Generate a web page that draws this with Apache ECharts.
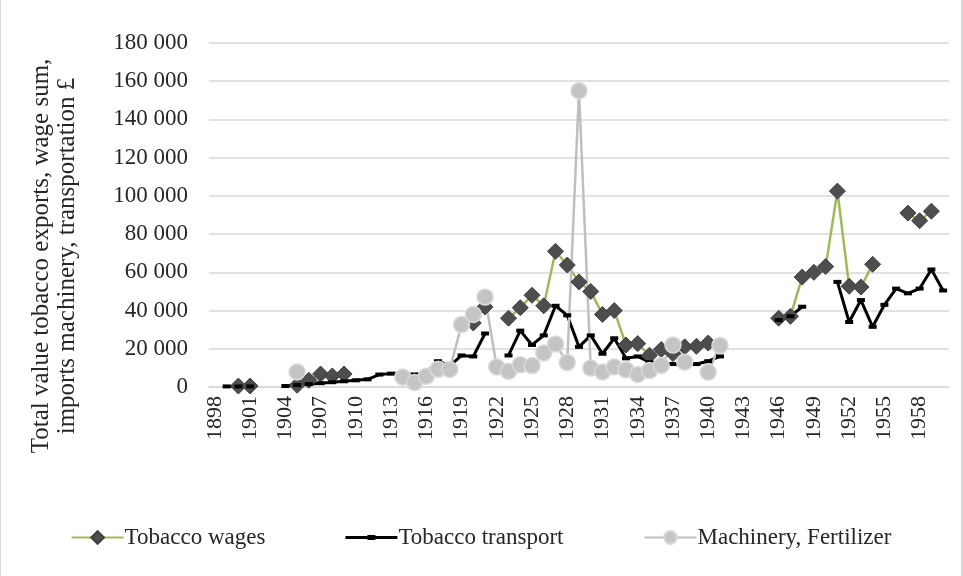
<!DOCTYPE html>
<html>
<head>
<meta charset="utf-8">
<title>Tobacco exports, wages, transport</title>
<script src="https://cdn.jsdelivr.net/npm/echarts@6/dist/echarts.min.js"></script>
<style>
  html, body { margin: 0; padding: 0; background: #fff; }
  #chart {
    width: 963px;
    height: 576px;
    box-sizing: border-box;
    border-left: 1px solid #d9d9d9;
    border-right: 2px solid #d9d9d9;
  }
</style>
</head>
<body>
<div id="chart"></div>
<script>
// years 1898 .. 1960, one category per year
const years = []
for (let y = 1898; y <= 1960; y++) years.push(String(y))

// values, null = no data (gap in line)
const tobaccoWages = [
  null, null, 500, 500, null, null, null, 900, 3500, 6800,   // 1898-1907
  5800, 6800, null, null, null, null, null, null, null, null, // 1908-1917
  null, null, 33500, 41900, null, 36000, 41500, 48000, 42500, 71000, // 1918-1927
  63800, 55000, 50000, 38000, 40000, 22000, 22700, 16600, 19600, 17500, // 1928-1937
  21000, 21300, 23000, null, null, null, null, null, 36000, 37000, // 1938-1947
  57500, 60000, 63000, 102500, 52700, 52300, 64200, null, null, 91000, // 1948-1957
  87000, 92000, null // 1958-1960
]

const tobaccoTransport = [
  null, 300, 300, 300, null, null, 500, 1000, 1500, 2000,     // 1898-1907
  2500, 3000, 3500, 4000, 6500, 7000, 7000, 6500, 7500, 13500, // 1908-1917
  11000, 16500, 16000, 28000, null, 16500, 29500, 22000, 27000, 42500, // 1918-1927
  37500, 21000, 27000, 17400, 25500, 15000, 16000, 13000, 12500, 12000, // 1928-1937
  11500, 12000, 13500, 16000, null, null, null, null, 35000, 37000, // 1938-1947
  42000, null, null, 55000, 34000, 45500, 31500, 43000, 51500, 49000, // 1948-1957
  51500, 61500, 50500 // 1958-1960
]

const machineryFertilizer = [
  null, null, null, null, null, null, null, 7900, null, null, // 1898-1907
  null, null, null, null, null, null, 5200, 2300, 5600, 9300, // 1908-1917
  9200, 32700, 38000, 47100, 10500, 8200, 11600, 11200, 17800, 22500, // 1918-1927
  12800, 155000, 9900, 7900, 10500, 9000, 6600, 8600, 11300, 22000, // 1928-1937
  13000, null, 7800, 21700, null, null, null, null, null, null, // 1938-1947
  null, null, null, null, null, null, null, null, null, null, // 1948-1957
  null, null, null // 1958-1960
]

const yTicks = { min: 0, max: 180000, interval: 20000 }

const fontFamily = '"Liberation Serif", "DejaVu Serif", serif'
const textColor = '#262626'

const chart = echarts.init(document.getElementById('chart'))

const fmt = v => String(v).replace(/\B(?=(\d{3})+(?!\d))/g, ' ')

// legend icon for transport: thick line with a small dash marker
const transportIcon = 'path://M0,0L0,0M0,16L0,16M0,6.5H52V9.5H0ZM22,5.5H30V10.5H22Z'

const option = {
  animation: false,
  textStyle: { fontFamily: fontFamily },
  grid: {
    left: 208,
    right: 12,
    top: 43,
    bottom: 189,
    containLabel: false
  },
  // axis title, placed like the Excel one (centred on the chart area, not the plot)
  graphic: [
    {
      type: 'text',
      x: 53,
      y: 256,
      rotation: Math.PI / 2,
      style: {
        text: 'Total value tobacco exports, wage sum,\nimports machinery, transportation £',
        fontFamily: fontFamily,
        fontSize: 25,
        lineHeight: 26,
        fill: textColor,
        align: 'center',
        verticalAlign: 'middle'
      }
    }
  ],
  legend: {
    bottom: 22,
    left: 'center',
    itemGap: 80,
    itemWidth: 52,
    itemHeight: 16,
    textStyle: { fontFamily: fontFamily, fontSize: 23, color: textColor, padding: [0, 0, 0, -4] },
    data: [
      { name: 'Tobacco wages' },
      { name: 'Tobacco transport', icon: transportIcon },
      { name: 'Machinery, Fertilizer' }
    ]
  },
  xAxis: {
    type: 'category',
    data: years,
    boundaryGap: true,
    axisLine: { lineStyle: { color: '#d9d9d9', width: 1.5 } },
    axisTick: { show: false },
    axisLabel: {
      interval: 2,
      rotate: 90,
      margin: 9,
      fontFamily: fontFamily,
      fontSize: 22,
      color: textColor
    }
  },
  yAxis: {
    type: 'value',
    min: yTicks.min,
    max: yTicks.max,
    interval: yTicks.interval,
    axisLine: { show: false },
    axisTick: { show: false },
    axisLabel: {
      margin: 21,
      fontFamily: fontFamily,
      fontSize: 23,
      color: textColor,
      formatter: fmt
    },
    splitLine: { lineStyle: { color: '#d9d9d9', width: 1.5 } }
  },
  series: [
    {
      name: 'Tobacco wages',
      type: 'line',
      data: tobaccoWages,
      connectNulls: false,
      showAllSymbol: true,
      symbol: 'diamond',
      symbolSize: 16,
      lineStyle: { color: '#9bbb59', width: 2.5 },
      itemStyle: { color: '#4d4d4d', borderColor: '#404040', borderWidth: 1 }
    },
    {
      name: 'Tobacco transport',
      type: 'line',
      data: tobaccoTransport,
      connectNulls: false,
      showAllSymbol: true,
      symbol: 'rect',
      symbolSize: [8, 4],
      lineStyle: { color: '#000000', width: 3 },
      itemStyle: { color: '#000000', borderWidth: 0 }
    },
    {
      name: 'Machinery, Fertilizer',
      type: 'line',
      data: machineryFertilizer,
      connectNulls: false,
      showAllSymbol: true,
      symbol: 'circle',
      symbolSize: 16,
      lineStyle: { color: '#bfbfbf', width: 2.5 },
      itemStyle: { color: '#c4c4c4', borderColor: '#d9d9d9', borderWidth: 1.5 }
    }
  ]
}

chart.setOption(option)
window.addEventListener('resize', () => chart.resize())
</script>
</body>
</html>
